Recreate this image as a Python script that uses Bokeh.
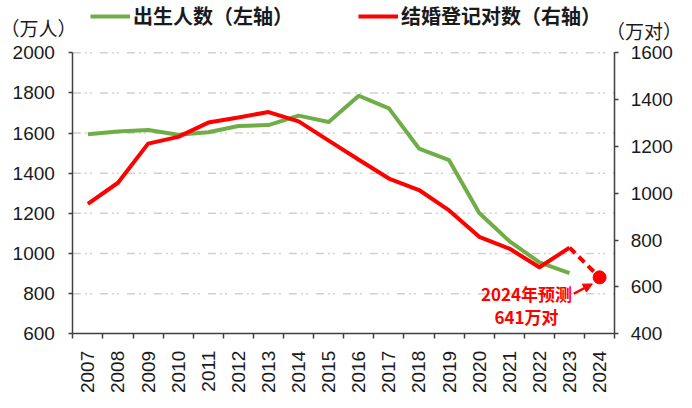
import math
from bokeh.plotting import figure
from bokeh.models import (Range1d, LinearAxis, FixedTicker, Legend, LegendItem,
                          Label, Arrow, NormalHead)
from bokeh.embed import file_html
from bokeh.resources import INLINE

years = ["2007", "2008", "2009", "2010", "2011", "2012", "2013", "2014", "2015",
         "2016", "2017", "2018", "2019", "2020", "2021", "2022", "2023", "2024"]
births = [1594, 1608, 1615, 1592, 1604, 1635, 1640, 1687, 1655,
          1786, 1723, 1523, 1465, 1202, 1062, 956, 902]
marriages = [955, 1045, 1212, 1241, 1302, 1324, 1347, 1307, 1225,
             1143, 1063, 1014, 927, 814, 764, 684, 768]
forecast_years = ["2023", "2024"]
forecast = [768, 641]
left_ticks = [600, 800, 1000, 1200, 1400, 1600, 1800, 2000]
right_ticks = [400, 600, 800, 1000, 1200, 1400, 1600]

GREEN = "#70AD47"
RED = "#FF0000"
AXIS = "#404040"
TXT = "#1a1a1a"
NUMFONT = "Liberation Sans"
CJK = "Noto Sans CJK SC"

x_b = [years.index(y) for y in years[:len(births)]]
x_m = [years.index(y) for y in years[:len(marriages)]]
x_f = [years.index(y) for y in forecast_years]
x_lo, x_hi = -0.5, len(years) - 0.5

# the frame covers the whole canvas; axes are pinned with fixed_location
p = figure(width=692, height=408, output_backend="svg", toolbar_location=None,
           x_range=Range1d(-2.904, 20.086), y_range=Range1d(227.8, 2260.6),
           x_axis_location=None, y_axis_location=None,
           min_border_left=0, min_border_right=0, min_border_top=0,
           min_border_bottom=0)
p.outline_line_color = None
p.background_fill_color = "white"
p.border_fill_color = "white"
p.extra_y_ranges = {"right": Range1d(81.0, 1823.3)}
p.xgrid.visible = False
p.ygrid.visible = False

# dashed horizontal grid (left-axis ticks)
gy = left_ticks[1:]
p.segment(x0=[x_lo] * len(gy), x1=[x_hi] * len(gy), y0=gy, y1=gy,
          line_color="#D0D0D0", line_width=1.5, line_dash="8 4 2 3 2 8")

xa = LinearAxis(fixed_location=left_ticks[0], bounds=(x_lo, x_hi),
                ticker=FixedTicker(ticks=list(range(len(years))),
                                   minor_ticks=[i - 0.5 for i in range(len(years) + 1)]))
xa.major_label_overrides = {i: y for i, y in enumerate(years)}
xa.major_label_orientation = math.pi / 2
xa.major_tick_out = 0
xa.major_tick_in = 0
xa.minor_tick_out = 5
xa.minor_tick_in = 0
xa.minor_tick_line_color = AXIS
xa.minor_tick_line_width = 1.5
xa.axis_line_color = AXIS
xa.axis_line_width = 1.5
xa.major_label_standoff = 12
xa.major_label_text_font = NUMFONT
xa.major_label_text_font_size = "19px"
xa.major_label_text_color = TXT
p.add_layout(xa, "below")

ya = LinearAxis(fixed_location=x_lo, bounds=(left_ticks[0], left_ticks[-1]),
                ticker=FixedTicker(ticks=left_ticks))
ya.major_tick_out = 4
ya.major_tick_in = 0
ya.minor_tick_line_color = None
ya.major_tick_line_color = AXIS
ya.major_tick_line_width = 1.5
ya.axis_line_color = AXIS
ya.axis_line_width = 1.5
ya.major_label_standoff = 14
ya.major_label_text_font = NUMFONT
ya.major_label_text_font_size = "19px"
ya.major_label_text_color = TXT
p.add_layout(ya, "left")

ra = LinearAxis(y_range_name="right", fixed_location=x_hi,
                bounds=(right_ticks[0], right_ticks[-1]),
                ticker=FixedTicker(ticks=right_ticks))
ra.major_tick_out = 4
ra.major_tick_in = 0
ra.minor_tick_line_color = None
ra.major_tick_line_color = AXIS
ra.major_tick_line_width = 1.5
ra.axis_line_color = AXIS
ra.axis_line_width = 1.5
ra.major_label_standoff = 12
ra.major_label_text_font = NUMFONT
ra.major_label_text_font_size = "19px"
ra.major_label_text_color = TXT
p.add_layout(ra, "right")

g = p.line(x_b, births, color=GREEN, line_width=4, line_join="round")
r = p.line(x_m, marriages, y_range_name="right", color=RED, line_width=4,
           line_join="round")
p.line(x_f, forecast, y_range_name="right", color=RED, line_width=4,
       line_dash="8 5")
p.scatter(x=[x_f[-1]], y=[forecast[-1]], y_range_name="right", size=13,
          color=RED)

legend = Legend(items=[LegendItem(label="出生人数（左轴）", renderers=[g]),
                       LegendItem(label="结婚登记对数（右轴）", renderers=[r])],
                orientation="horizontal", location=(90, 378),
                glyph_width=40, glyph_height=20, label_standoff=3, spacing=65,
                padding=0, margin=0, border_line_alpha=0,
                background_fill_alpha=0, label_text_font=CJK,
                label_text_font_size="20px", label_text_font_style="bold",
                label_text_color=TXT, label_height=20)
p.add_layout(legend, "center")

p.add_layout(Label(x=-1.642, y=2126, text="（万人）", text_align="center",
                   text_baseline="middle", text_font=CJK,
                   text_font_size="19px", text_color=TXT))
p.add_layout(Label(x=18.475, y=1697, y_range_name="right", text="（万对）",
                   text_align="center", text_baseline="middle", text_font=CJK,
                   text_font_size="19px", text_color=TXT))

p.add_layout(Label(x=14.57, y=572, y_range_name="right", text="2024年预测",
                   text_align="center", text_baseline="middle", text_font=CJK,
                   text_font_size="17px", text_font_style="bold",
                   text_color=RED))
p.add_layout(Label(x=14.57, y=475, y_range_name="right", text="641万对",
                   text_align="center", text_baseline="middle", text_font=CJK,
                   text_font_size="17px", text_font_style="bold",
                   text_color=RED))
p.add_layout(Arrow(end=NormalHead(size=9, fill_color=RED, line_color=RED),
                   x_start=16.14, y_start=571, x_end=16.76, y_end=613,
                   y_range_name="right", line_color=RED, line_width=2.5))

open("out.html", "w").write(file_html(p, INLINE))
